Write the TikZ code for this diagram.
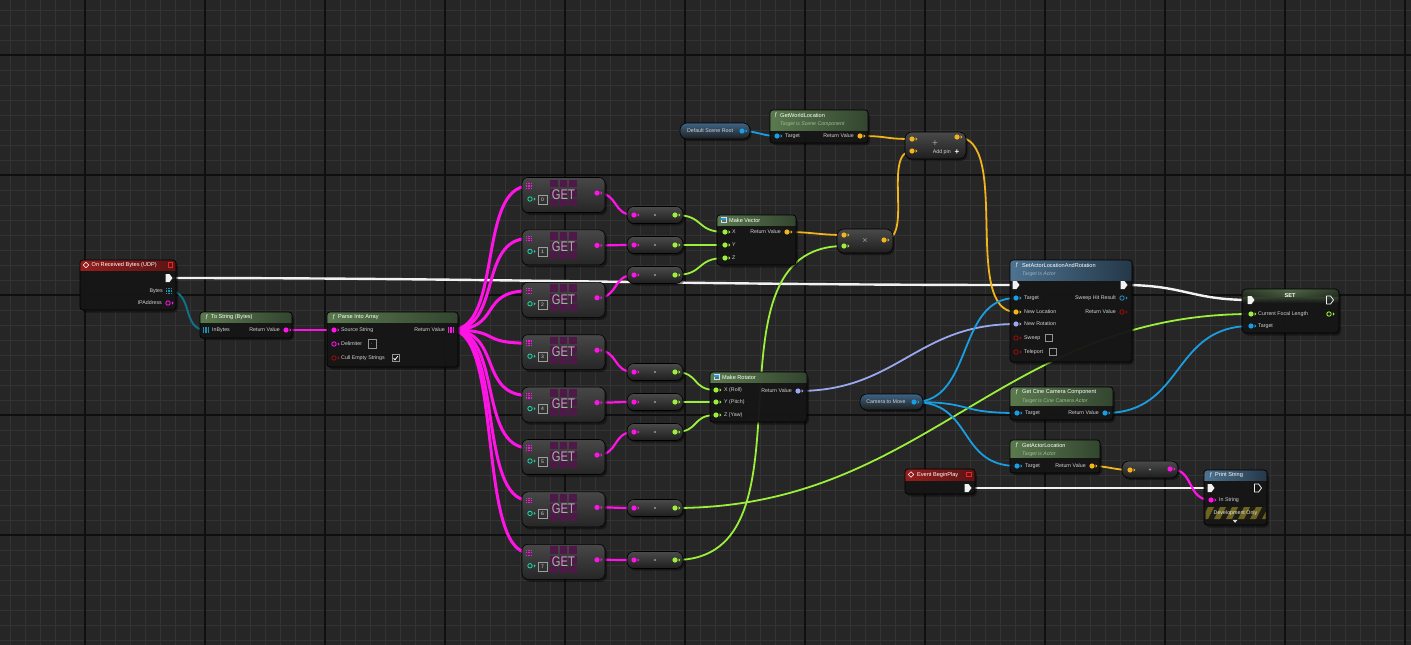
\documentclass[tikz,border=0pt]{standalone}
\usepackage{fontspec}
\setmainfont{Liberation Sans}
\usetikzlibrary{calc}
\definecolor{bg}{HTML}{262626}
\definecolor{gminor}{HTML}{333333}
\definecolor{gmajor}{HTML}{0F0F0F}
\definecolor{strc}{HTML}{FF14E6}
\definecolor{fltc}{HTML}{9CF03C}
\definecolor{vecc}{HTML}{F0B41C}
\definecolor{objc}{HTML}{1A9EE2}
\definecolor{rotc}{HTML}{9AA8F0}
\definecolor{bytc}{HTML}{107088}
\definecolor{bytp}{HTML}{1E8FB0}
\definecolor{intc}{HTML}{1FCFA0}
\definecolor{boolc}{HTML}{9A0C0C}
\definecolor{hitc}{HTML}{2A86B8}
\definecolor{nbody}{HTML}{161616}
\definecolor{txtc}{HTML}{D4D4D4}
\definecolor{subg}{HTML}{A3BC9B}
\definecolor{subb}{HTML}{9AB3C6}
\definecolor{hgL}{HTML}{5A7A4E}
\definecolor{hgR}{HTML}{33452F}
\definecolor{hrL}{HTML}{961E1E}
\definecolor{hrR}{HTML}{5A1414}
\definecolor{hbL}{HTML}{4E7390}
\definecolor{hbR}{HTML}{243848}
\definecolor{getsq}{HTML}{4E1848}
\definecolor{gettx}{HTML}{B8AAB4}
\definecolor{getT}{HTML}{474747}
\definecolor{getB}{HTML}{262626}
\definecolor{pillT}{HTML}{4A4A4A}
\definecolor{pillB}{HTML}{1E1E1E}
\definecolor{varT}{HTML}{3E6484}
\definecolor{exc}{HTML}{F2F2F2}
\definecolor{evsq}{HTML}{E82828}
\definecolor{devy}{HTML}{6E6420}
\definecolor{devb}{HTML}{1C1C12}
\pgfdeclarelayer{gridlayer}
\pgfdeclarelayer{wirelayer}
\pgfsetlayers{gridlayer,wirelayer,main}

\newcommand\bpNode[8]{%
  \fill[black,opacity=.4,rounded corners=4pt] (#2+2,#3+2.5) rectangle (#4+2,#5+2.5);
  \node[inner sep=0pt,outer sep=0pt,fill=nbody,fill opacity=.94,rounded corners=3pt,
    minimum width={((#4)-(#2))*1pt},minimum height={((#5)-(#3))*1pt},anchor=north west] (#1) at (#2,#3) {};
  \begin{scope}
    \clip[rounded corners=3pt] (#2,#3) rectangle (#4,#5);
    \shade[left color=#7,right color=#8] (#2,#3) rectangle (#4,#6);
  \end{scope}
  \draw[black,line width=.7pt,rounded corners=3pt] (#2,#3) rectangle (#4,#5);
}
\newcommand\pillNode[6]{%
  \fill[black,opacity=.4,rounded corners=7pt] (#2+1.5,#3+2) rectangle (#4+1.5,#5+2);
  \node[inner sep=0pt,outer sep=0pt,top color=#6,bottom color=pillB,draw=black,line width=.6pt,rounded corners=7pt,
    minimum width={((#4)-(#2))*1pt},minimum height={((#5)-(#3))*1pt},anchor=north west] (#1) at (#2,#3) {};
}
\newcommand\dpin[2]{\fill[#2] (#1) circle (2.6pt);
  \fill[#2,shift={(#1)}] (3.6,-1.7) -- (5.4,0) -- (3.6,1.7) -- cycle;}
\newcommand\hpin[2]{\draw[#2,line width=.9pt] (#1) circle (2.2pt);
  \fill[#2,shift={(#1)}] (3.8,-1.7) -- (5.6,0) -- (3.8,1.7) -- cycle;}
\newcommand\epin[1]{\fill[exc,shift={(#1)}] (-3.5,-4) -- (0.5,-4) -- (3.5,0) -- (0.5,4) -- (-3.5,4) -- cycle;}
\newcommand\eopen[1]{\draw[exc,line width=.8pt,line join=round,shift={(#1)}] (-3.5,-4) -- (0.5,-4) -- (3.5,0) -- (0.5,4) -- (-3.5,4) -- cycle;}
\newcommand\gpin[2]{\foreach \gi in {-2.3,0,2.3}{\foreach \gj in {-2.3,0,2.3}{\fill[#2,shift={(#1)}] (\gi-.6,\gj-.6) rectangle (\gi+.6,\gj+.6);}}}
\newcommand\bpin[2]{\foreach \gi in {-2.2,0,2.2}{\fill[#2,shift={(#1)}] (\gi-.6,-3.2) rectangle (\gi+.6,3.2);}}
\newcommand\cbox[3]{\draw[gray!85,line width=.6pt] (#1,#2) rectangle +(7,7);
  \ifnum#3=1 \draw[white,line width=.8pt] (#1+1.5,#2+3.6) -- (#1+3,#2+5.4) -- (#1+5.8,#2+1.6);\fi}
\newcommand\wire[4]{\draw[#1] (#2) .. controls +(#4,0) and +(-#4,0) .. (#3);}
\newcommand\getNode[3]{%
  \fill[black,opacity=.4,rounded corners=6pt] (524,#2-15) rectangle (607,#2+20.5);
  \node[inner sep=0pt,outer sep=0pt,rounded corners=6pt,top color=getT,bottom color=getB,draw=black,line width=.6pt,
    minimum width=83pt,minimum height=35pt,anchor=north west] (get#1) at (522,#2-17) {};
  \foreach \ga in {0,1,2}{\foreach \gb in {0,1,2}{\fill[getsq] (550+\ga*9.6,#2-15+\gb*9.6) rectangle +(7.6,7.6);}}
  \node[text=gettx,inner sep=0pt] (getl#1) at (563.5,#2) {\scalebox{.8}[1]{\fontsize{14}{14}\selectfont GET}};
  \coordinate (getA#1) at (529,#2-8.5);
  \coordinate (getI#1) at (530,#2+4.5);
  \coordinate (getO#1) at (597,#2-1.5);
  \gpin{getA#1}{strc}
  \hpin{getI#1}{intc}
  \dpin{getO#1}{strc}
  \draw[gray!75,line width=.5pt] (538,#2+0.5) rectangle (547,#2+9.5);
  \node[font=\fontsize{5}{5}\selectfont,text=txtc,inner sep=0pt] (getd#1) at (542.5,#2+5) {#3};
}

\begin{document}
\begin{tikzpicture}[x=1pt,y=-1pt,
  lbl/.style={font=\fontsize{5.3}{6}\selectfont,text=txtc,inner sep=0pt,anchor=west},
  lblr/.style={lbl,anchor=east},
  ttl/.style={font=\fontsize{5.6}{6}\selectfont,text=white,inner sep=0pt,anchor=west},
  subt/.style={font=\fontsize{5.2}{6}\itshape\selectfont,inner sep=0pt,anchor=west},
  wexec/.style={draw=exc,line width=2.4pt},
  wfan/.style={draw=strc,line width=3pt},
  wstr/.style={draw=strc,line width=2.2pt},
  wflt/.style={draw=fltc,line width=1.8pt},
  wvec/.style={draw=vecc,line width=1.8pt},
  wobj/.style={draw=objc,line width=1.8pt},
  wrot/.style={draw=rotc,line width=1.8pt},
  wbyt/.style={draw=bytc,line width=2pt}]
\useasboundingbox (0,0) rectangle (1411,645);
\begin{pgfonlayer}{gridlayer}
  \fill[bg] (0,0) rectangle (1411,645);
  \foreach \gx in {10,25,...,1410} \draw[gminor,line width=.9pt] (\gx,0) -- (\gx,645);
  \foreach \gy in {10,25,...,640} \draw[gminor,line width=.9pt] (0,\gy) -- (1411,\gy);
  \foreach \gx in {85,205,...,1405} \draw[gmajor,line width=1.3pt] (\gx,0) -- (\gx,645);
  \foreach \gy in {55,175,...,535} \draw[gmajor,line width=1.3pt] (0,\gy) -- (1411,\gy);
\end{pgfonlayer}

% ---------- On Received Bytes (UDP)
\bpNode{orb}{80}{260}{176}{310}{270.5}{hrL}{hrR}
\draw[white,line width=.6pt] (86,262.3) -- (88.7,265) -- (86,267.7) -- (83.3,265) -- cycle;
\node[ttl] (orbt) at (91.5,265.3) {On Received Bytes (UDP)};
\draw[evsq,line width=.9pt] (168.3,262.6) rectangle (172.8,267.1);
\coordinate (orbE) at (169,278); \epin{orbE}
\coordinate (orbB) at (169,291); \gpin{orbB}{bytp}
\coordinate (orbI) at (168,303); \hpin{orbI}{strc}
\node[lblr] (orbBl) at (163,291) {Bytes};
\node[lblr] (orbIl) at (162,303) {IPAddress};

% ---------- To String (Bytes)
\bpNode{tsb}{200}{312}{292}{338}{322}{hgL}{hgR}
\node[ttl] (tsbf) at (205,317.3) {\textit{ƒ}};
\node[ttl] (tsbt) at (211,317.3) {To String (Bytes)};
\coordinate (tsbI) at (206,330); \bpin{tsbI}{bytp}
\coordinate (tsbO) at (286,330); \dpin{tsbO}{strc}
\node[lbl] (tsbIl) at (212,330) {InBytes};
\node[lblr] (tsbOl) at (280,330) {Return Value};

% ---------- Parse Into Array
\bpNode{pia}{327}{312}{458}{367}{322}{hgL}{hgR}
\node[ttl] (piaf) at (332,317.3) {\textit{ƒ}};
\node[ttl] (piat) at (338,317.3) {Parse Into Array};
\coordinate (piaS) at (334,330); \dpin{piaS}{strc}
\coordinate (piaO) at (451,330); \bpin{piaO}{strc}
\coordinate (piaD) at (334,344); \hpin{piaD}{strc}
\coordinate (piaC) at (334,358); \hpin{piaC}{boolc}
\node[lbl] (piaSl) at (341,330) {Source String};
\node[lblr] (piaOl) at (445,330) {Return Value};
\node[lbl] (piaDl) at (341,344) {Delimiter};
\draw[gray!85,line width=.6pt] (368,339.5) rectangle (376,348.5);
\node[lbl] (piaDv) at (370.5,344) {.};
\node[lbl] (piaCl) at (341,358) {Cull Empty Strings};
\cbox{392}{354.5}{1}

% ---------- GET nodes
\foreach \i in {0,...,7}{
  \pgfmathsetmacro\cy{194.5+52.4*\i}
  \getNode{\i}{\cy}{\i}
}

% ---------- compact conversion nodes
\foreach \i/\py in {0/215,1/245,2/275,3/372,4/402,5/432,6/508,7/560}{
  \pillNode{cv\i}{627}{\py-8.5}{683}{\py+8.5}{pillT}
  \coordinate (cvI\i) at (634,\py);
  \coordinate (cvO\i) at (675,\py);
  \fill[gray!80] (655,\py) circle (1.2pt);
  \dpin{cvI\i}{strc}
  \dpin{cvO\i}{fltc}
}

% ---------- Default Scene Root / GetWorldLocation
\pillNode{dsr}{680}{123}{750}{139}{varT}
\node[lbl,anchor=center] (dsrl) at (710,131) {Default Scene Root};
\coordinate (dsrO) at (742,131); \dpin{dsrO}{objc}
\bpNode{gwl}{770}{110}{868}{143}{130}{hgL}{hgR}
\node[ttl] (gwlf) at (774,115.3) {\textit{ƒ}};
\node[ttl] (gwlt) at (780,115.3) {GetWorldLocation};
\node[subt,text=subg] (gwls) at (780,124) {Target is Scene Component};
\coordinate (gwlT) at (777,136); \dpin{gwlT}{objc}
\coordinate (gwlO) at (860,136); \dpin{gwlO}{vecc}
\node[lbl] (gwlTl) at (785,136) {Target};
\node[lblr] (gwlOl) at (854,136) {Return Value};

% ---------- Make Vector
\bpNode{mv}{717}{215}{796}{265}{225}{hgL}{hgR}
\draw[white!85!blue,line width=.5pt] (721,217.5) rectangle (726,222.5); \fill[objc] (721,217.5) rectangle (726,219.5);
\node[ttl] (mvt) at (729,220.3) {Make Vector};
\coordinate (mvX) at (725,232); \dpin{mvX}{fltc}
\coordinate (mvY) at (725,245); \dpin{mvY}{fltc}
\coordinate (mvZ) at (725,258); \dpin{mvZ}{fltc}
\coordinate (mvO) at (787,232); \dpin{mvO}{vecc}
\node[lbl] (mvXl) at (732,232) {X};
\node[lbl] (mvYl) at (732,245) {Y};
\node[lbl] (mvZl) at (732,258) {Z};
\node[lblr] (mvOl) at (781,232) {Return Value};

% ---------- Multiply
\pillNode{mul}{837}{229}{893}{253}{pillT}
\node[text=gray!75,font=\fontsize{9}{9}\selectfont,inner sep=0pt] (mulx) at (865,240.5) {×};
\coordinate (mulA) at (844,235); \dpin{mulA}{vecc}
\coordinate (mulB) at (844,246); \dpin{mulB}{fltc}
\coordinate (mulO) at (884,240); \dpin{mulO}{vecc}

% ---------- Add
\pillNode{add}{905}{132}{966}{159}{pillT}
\node[text=gray!75,font=\fontsize{10}{10}\selectfont,inner sep=0pt] (addp) at (935,143.5) {+};
\coordinate (addA) at (912,139); \dpin{addA}{vecc}
\coordinate (addB) at (912,151); \dpin{addB}{vecc}
\coordinate (addO) at (957,137); \dpin{addO}{vecc}
\node[lblr] (addl) at (951,152.3) {Add pin};
\node[text=white,font=\fontsize{8}{8}\bfseries\selectfont,inner sep=0pt] (addpp) at (957,152) {+};

% ---------- SetActorLocationAndRotation
\bpNode{sa}{1010}{260}{1132}{362}{280}{hbL}{hbR}
\node[ttl] (saf) at (1015,265.3) {\textit{ƒ}};
\node[ttl] (sat) at (1022,265.3) {SetActorLocationAndRotation};
\node[subt,text=subb] (sas) at (1022,274) {Target is Actor};
\coordinate (saEi) at (1016,285); \epin{saEi}
\coordinate (saEo) at (1124,285); \epin{saEo}
\coordinate (saT) at (1016,298); \dpin{saT}{objc}
\coordinate (saL) at (1016,312); \dpin{saL}{vecc}
\coordinate (saR) at (1016,324); \dpin{saR}{rotc}
\coordinate (saS) at (1016,338); \hpin{saS}{boolc}
\coordinate (saP) at (1016,352); \hpin{saP}{boolc}
\coordinate (saH) at (1122,298); \hpin{saH}{hitc}
\coordinate (saV) at (1122,312); \hpin{saV}{boolc}
\node[lbl] (saTl) at (1024,298) {Target};
\node[lbl] (saLl) at (1024,312) {New Location};
\node[lbl] (saRl) at (1024,324) {New Rotation};
\node[lbl] (saSl) at (1024,338) {Sweep};
\cbox{1045}{334.5}{0}
\node[lbl] (saPl) at (1024,352) {Teleport};
\cbox{1049}{348.5}{0}
\node[lblr] (saHl) at (1116,298) {Sweep Hit Result};
\node[lblr] (saVl) at (1116,312) {Return Value};

% ---------- SET
\fill[black,opacity=.4,rounded corners=4pt] (1244,291.5) rectangle (1341,335.5);
\node[inner sep=0pt,outer sep=0pt,fill=nbody,fill opacity=.94,rounded corners=4pt,minimum width=97pt,minimum height=44pt,anchor=north west] (set) at (1242,289) {};
\begin{scope}
  \clip[rounded corners=4pt] (1242,289) rectangle (1339,333);
  \shade[top color=hgL,bottom color=nbody] (1242,289) rectangle (1339,303);
  \shade[left color=nbody,right color=nbody,middle color=hgL!70!nbody,opacity=.6] (1242,289) rectangle (1339,296);
\end{scope}
\draw[black,line width=.7pt,rounded corners=4pt] (1242,289) rectangle (1339,333);
\node[ttl,anchor=center,font=\fontsize{5.6}{6}\bfseries\selectfont] (sett) at (1290,295.5) {SET};
\coordinate (stEi) at (1251,300); \epin{stEi}
\coordinate (stEo) at (1330,300); \eopen{stEo}
\coordinate (stF) at (1251,314); \dpin{stF}{fltc}
\coordinate (stFo) at (1329,314); \hpin{stFo}{fltc}
\coordinate (stT) at (1251,326); \dpin{stT}{objc}
\node[lbl] (stFl) at (1258,314) {Current Focal Length};
\node[lbl] (stTl) at (1258,326) {Target};

% ---------- Make Rotator
\bpNode{mr}{710}{372}{807}{422}{382}{hgL}{hgR}
\draw[white!85!blue,line width=.5pt] (714,374.5) rectangle (719,379.5); \fill[objc] (714,374.5) rectangle (719,376.5);
\node[ttl] (mrt) at (722,377.3) {Make Rotator};
\coordinate (mrX) at (716,390); \dpin{mrX}{fltc}
\coordinate (mrY) at (716,402); \dpin{mrY}{fltc}
\coordinate (mrZ) at (716,415); \dpin{mrZ}{fltc}
\coordinate (mrO) at (798,391); \dpin{mrO}{rotc}
\node[lbl] (mrXl) at (724,390) {X (Roll)};
\node[lbl] (mrYl) at (724,402) {Y (Pitch)};
\node[lbl] (mrZl) at (724,415) {Z (Yaw)};
\node[lblr] (mrOl) at (792,391) {Return Value};

% ---------- Camera to Move
\pillNode{ctm}{860}{394}{923}{410}{varT}
\node[lbl,anchor=center] (ctml) at (886,402) {Camera to Move};
\coordinate (ctmO) at (914,402); \dpin{ctmO}{objc}

% ---------- Get Cine Camera Component
\bpNode{gcc}{1010}{387}{1113}{420}{405}{hgL}{hgR}
\node[ttl] (gccf) at (1015,392.3) {\textit{ƒ}};
\node[ttl] (gcct) at (1022,392.3) {Get Cine Camera Component};
\node[subt,text=subg] (gccs) at (1022,401) {Target is Cine Camera Actor};
\coordinate (gccT) at (1017,413); \dpin{gccT}{objc}
\coordinate (gccO) at (1105,413); \dpin{gccO}{objc}
\node[lbl] (gccTl) at (1025,413) {Target};
\node[lblr] (gccOl) at (1099,413) {Return Value};

% ---------- GetActorLocation
\bpNode{gal}{1010}{440}{1100}{473}{457}{hgL}{hgR}
\node[ttl] (galf) at (1015,445.3) {\textit{ƒ}};
\node[ttl] (galt) at (1022,445.3) {GetActorLocation};
\node[subt,text=subg] (gals) at (1022,454) {Target is Actor};
\coordinate (galT) at (1017,466); \dpin{galT}{objc}
\coordinate (galO) at (1092,466); \dpin{galO}{vecc}
\node[lbl] (galTl) at (1025,466) {Target};
\node[lblr] (galOl) at (1086,466) {Return Value};

% ---------- Event BeginPlay
\bpNode{ebp}{905}{469}{975}{494}{480}{hrL}{hrR}
\draw[white,line width=.6pt] (911,471.8) -- (913.7,474.5) -- (911,477.2) -- (908.3,474.5) -- cycle;
\node[ttl] (ebpt) at (917,474.8) {Event BeginPlay};
\draw[evsq,line width=.9pt] (966.5,472.2) rectangle (971,476.7);
\coordinate (ebpE) at (968,488); \epin{ebpE}

% ---------- conversion to string
\pillNode{cvs}{1122}{461}{1178}{478}{pillT}
\fill[gray!80] (1150,469.5) circle (1.2pt);
\coordinate (cvsI) at (1130,470); \dpin{cvsI}{vecc}
\coordinate (cvsO) at (1170,469); \dpin{cvsO}{strc}

% ---------- Print String
\bpNode{ps}{1204}{470}{1267}{525}{480}{hbL}{hbR}
\node[ttl] (psf) at (1209,475.3) {\textit{ƒ}};
\node[ttl] (pst) at (1215,475.3) {Print String};
\coordinate (psEi) at (1211,488); \epin{psEi}
\coordinate (psEo) at (1258,488); \eopen{psEo}
\coordinate (psS) at (1211,500); \dpin{psS}{strc}
\node[lbl] (psSl) at (1219,500) {In String};
\begin{scope}
  \clip (1205.5,507) rectangle (1265.5,519);
  \fill[devb] (1205,507) rectangle (1266,519);
  \foreach \sx in {1190,1202,...,1270} \fill[devy] (\sx,519) -- (\sx+6,519) -- (\sx+12,507) -- (\sx+6,507) -- cycle;
\end{scope}
\node[lbl,anchor=center,text=white!90!black] (psdev) at (1235.5,513.2) {Development Only};
\fill[white!85!black] (1232.6,519.8) -- (1237.6,519.8) -- (1235.1,522.8) -- cycle;

% ================= wires
\begin{pgfonlayer}{wirelayer}
  \wire{wexec}{orbE}{saEi}{320}
  \wire{wexec}{saEo}{stEi}{60}
  \wire{wexec}{ebpE}{psEi}{80}
  \wire{wbyt}{orbB}{tsbI}{25}
  \wire{wstr}{tsbO}{piaS}{20}
  \foreach \i in {0,...,7}{\wire{wfan}{piaO}{getA\i}{52}}
  \foreach \i in {0,...,7}{\wire{wstr}{getO\i}{cvI\i}{22}}
  \wire{wflt}{cvO0}{mvX}{30}
  \wire{wflt}{cvO1}{mvY}{30}
  \wire{wflt}{cvO2}{mvZ}{30}
  \wire{wflt}{cvO3}{mrX}{25}
  \wire{wflt}{cvO4}{mrY}{25}
  \wire{wflt}{cvO5}{mrZ}{25}
  \wire{wflt}{cvO6}{stF}{250}
  \wire{wflt}{cvO7}{mulB}{150}
  \wire{wvec}{mvO}{mulA}{25}
  \wire{wvec}{mulO}{addB}{30}
  \wire{wvec}{gwlO}{addA}{30}
  \wire{wvec}{addO}{saL}{55}
  \wire{wvec}{galO}{cvsI}{15}
  \wire{wrot}{mrO}{saR}{100}
  \wire{wobj}{dsrO}{gwlT}{15}
  \wire{wobj}{ctmO}{saT}{60}
  \wire{wobj}{ctmO}{gccT}{60}
  \wire{wobj}{ctmO}{galT}{60}
  \wire{wobj}{gccO}{stT}{80}
  \wire{wstr}{cvsO}{psS}{25}
\end{pgfonlayer}
\end{tikzpicture}
\end{document}
